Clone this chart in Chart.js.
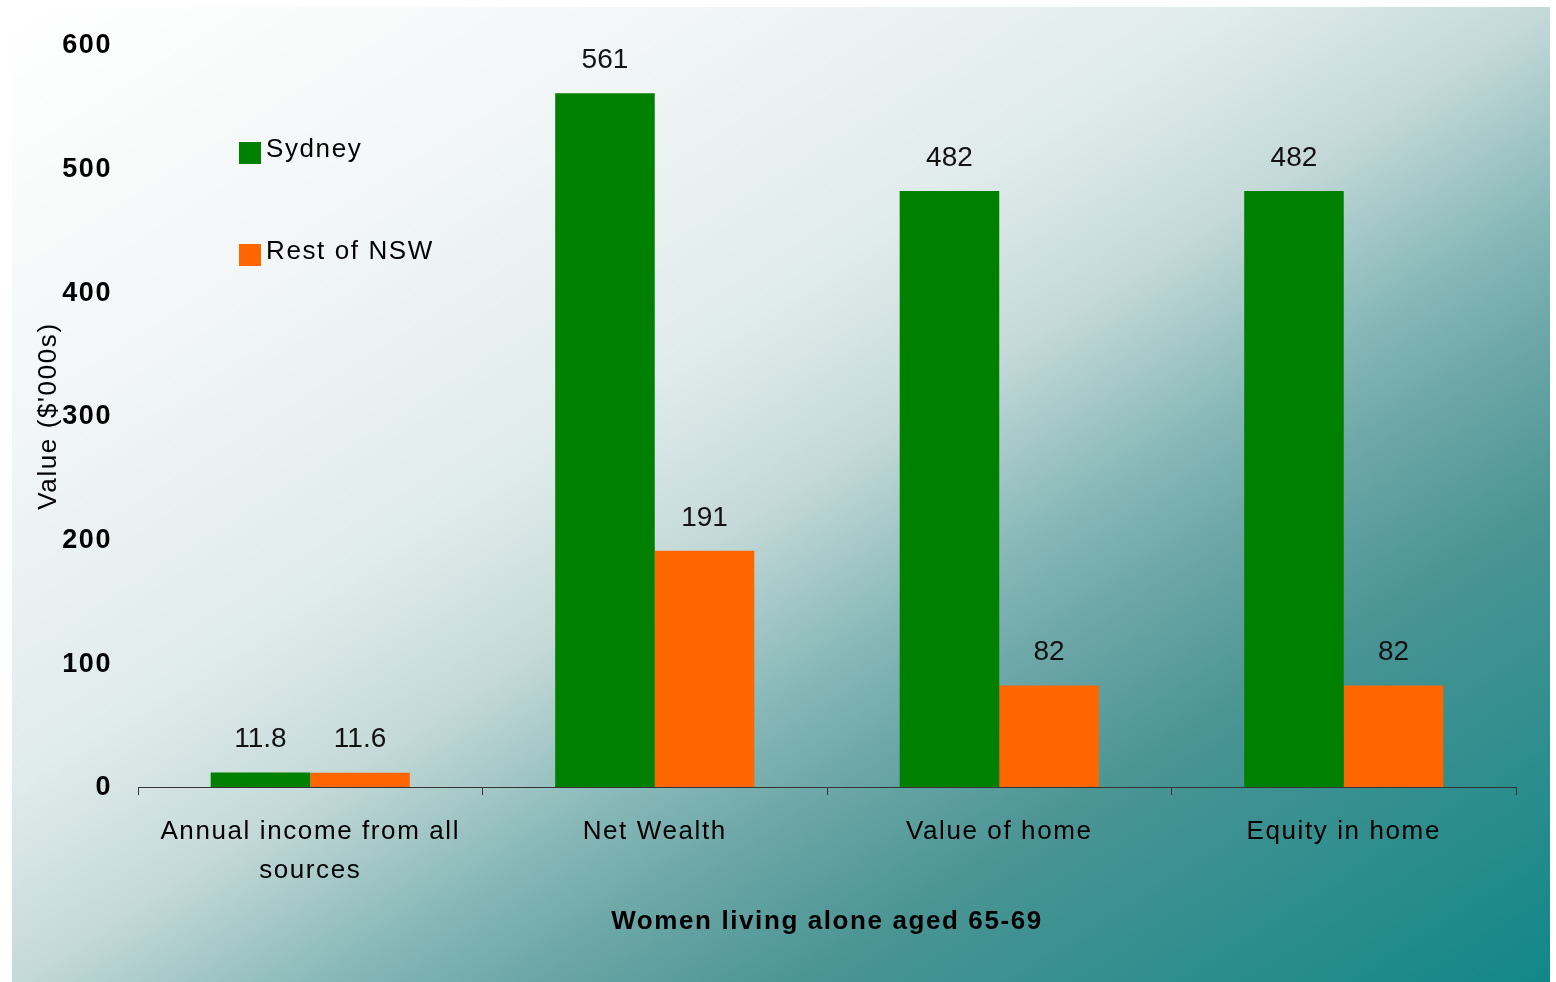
<!DOCTYPE html>
<html>
<head>
<meta charset="utf-8">
<title>Women living alone aged 65-69</title>
<script src="https://cdn.jsdelivr.net/npm/chart.js@4/dist/chart.umd.min.js"></script>
<style>
    html, body { margin: 0; padding: 0; background: #ffffff; }
    #chartWrap { position: relative; width: 1556px; height: 982px; }
</style>
</head>
<body>
<div id="chartWrap"><canvas id="wealthChart"></canvas></div>
<script>
// Chart data
const categories = [['Annual income from all', 'sources'], 'Net Wealth', 'Value of home', 'Equity in home'];
const seriesNames = ['Sydney', 'Rest of NSW'];
const sydneyValues = [11.8, 561, 482, 482];
const restOfNswValues = [11.6, 191, 82, 82];
const valueTicks = [0, 100, 200, 300, 400, 500, 600];

const FONT_FAMILY = '"Liberation Sans", Arial, Helvetica, sans-serif';
const TEXT_SPACING = '1.6px';

document.addEventListener('DOMContentLoaded', function() {
    buildChart();
});

// Slightly wider text spacing for axis and legend text
const spacingPlugin = {
    id: 'spacing',
    beforeUpdate(chart) {
        chart.ctx.letterSpacing = TEXT_SPACING;
    },
    beforeDraw(chart) {
        chart.ctx.letterSpacing = TEXT_SPACING;
    }
};

// Diagonal white-to-teal backdrop
const backdropPlugin = {
    id: 'backdrop',
    beforeDraw(chart, args, opts) {
        const ctx = chart.ctx;
        const x0 = opts.left, y0 = opts.top;
        const x1 = chart.width - opts.right, y1 = chart.height;
        const cx = (x0 + x1) / 2, cy = (y0 + y1) / 2;
        // direction perpendicular to the anti-diagonal
        const vx = y1 - y0, vy = x1 - x0;
        const s = ((cx - x0) * vx + (cy - y0) * vy) / (vx * vx + vy * vy);
        const grad = ctx.createLinearGradient(cx - vx * s, cy - vy * s, cx + vx * s, cy + vy * s);
        grad.addColorStop(0, '#ffffff');
        grad.addColorStop(0.22, '#f2f6f6');
        grad.addColorStop(0.4, '#e0ebeb');
        grad.addColorStop(0.5, '#c5d9d9');
        grad.addColorStop(0.6, '#89b9b9');
        grad.addColorStop(0.66, '#6fa8a8');
        grad.addColorStop(0.76, '#4a9494');
        grad.addColorStop(1, '#128787');
        ctx.save();
        ctx.fillStyle = grad;
        ctx.fillRect(x0, y0, x1 - x0, y1 - y0);
        ctx.restore();
    }
};

// Value labels above each bar
const barLabelPlugin = {
    id: 'barLabels',
    afterDatasetsDraw(chart, args, opts) {
        const ctx = chart.ctx;
        ctx.save();
        ctx.letterSpacing = '0px';
        ctx.font = opts.size + 'px ' + FONT_FAMILY;
        ctx.fillStyle = '#111111';
        ctx.textAlign = 'center';
        ctx.textBaseline = 'middle';
        chart.data.datasets.forEach((ds, i) => {
            chart.getDatasetMeta(i).data.forEach((bar, j) => {
                ctx.fillText(String(ds.data[j]), bar.x, bar.y - opts.offset);
            });
        });
        ctx.restore();
    }
};

// Legend drawn as a stacked list inside the plot
const boxLegendPlugin = {
    id: 'boxLegend',
    afterDraw(chart, args, opts) {
        const ctx = chart.ctx;
        ctx.save();
        ctx.font = opts.size + 'px ' + FONT_FAMILY;
        ctx.textAlign = 'left';
        ctx.textBaseline = 'alphabetic';
        chart.data.datasets.forEach((ds, i) => {
            const top = opts.top + i * opts.rowGap;
            ctx.fillStyle = ds.backgroundColor;
            ctx.fillRect(opts.left, top, opts.box, opts.box);
            ctx.fillStyle = '#000000';
            ctx.fillText(ds.label, opts.left + opts.box + 5, top + 15);
        });
        ctx.restore();
    }
};

function buildChart() {
    const ctx = document.getElementById('wealthChart');

    new Chart(ctx, {
        type: 'bar',
        data: {
            labels: categories,
            datasets: [
                {
                    label: seriesNames[0],
                    data: sydneyValues,
                    backgroundColor: '#008000',
                    borderWidth: 0,
                    categoryPercentage: 0.578,
                    barPercentage: 1
                },
                {
                    label: seriesNames[1],
                    data: restOfNswValues,
                    backgroundColor: '#ff6600',
                    borderWidth: 0,
                    categoryPercentage: 0.578,
                    barPercentage: 1
                }
            ]
        },
        options: {
            responsive: true,
            maintainAspectRatio: false,
            animation: false,
            layout: {
                padding: { top: 45, right: 40, bottom: 45, left: 27 }
            },
            plugins: {
                legend: { display: false },
                tooltip: { enabled: false },
                backdrop: { left: 12, top: 7, right: 6 },
                barLabels: { size: 28, offset: 33 },
                boxLegend: { left: 239, top: 142, box: 22, rowGap: 102, size: 26 }
            },
            scales: {
                x: {
                    afterFit(scale) {
                        scale.height = 150;
                    },
                    grid: {
                        display: true,
                        drawOnChartArea: false,
                        drawTicks: true,
                        tickLength: 8,
                        color: '#333333',
                        lineWidth: 1
                    },
                    border: { display: true, color: '#333333', width: 1 },
                    ticks: {
                        color: '#000000',
                        padding: 17,
                        maxRotation: 0,
                        autoSkip: false,
                        font: { family: FONT_FAMILY, size: 26, lineHeight: 1.5 }
                    },
                    title: {
                        display: true,
                        text: 'Women living alone aged 65-69',
                        color: '#000000',
                        padding: { top: 17, bottom: 0 },
                        font: { family: FONT_FAMILY, size: 26, weight: 'bold', lineHeight: 1.2 }
                    }
                },
                y: {
                    min: valueTicks[0],
                    max: valueTicks[valueTicks.length - 1],
                    afterBuildTicks(scale) {
                        scale.ticks = valueTicks.map(v => ({ value: v }));
                    },
                    afterFit(scale) {
                        scale.width = 111;
                    },
                    grid: { display: false, drawTicks: false },
                    border: { display: false },
                    ticks: {
                        color: '#000000',
                        padding: 26,
                        labelOffset: 1,
                        font: { family: FONT_FAMILY, size: 27, weight: 'bold' }
                    },
                    title: {
                        display: true,
                        text: "Value ($'000s)",
                        color: '#000000',
                        padding: { top: 6, bottom: 1 },
                        font: { family: FONT_FAMILY, size: 26, lineHeight: 1.2 }
                    }
                }
            }
        },
        plugins: [spacingPlugin, backdropPlugin, barLabelPlugin, boxLegendPlugin]
    });
}
</script>
</body>
</html>
